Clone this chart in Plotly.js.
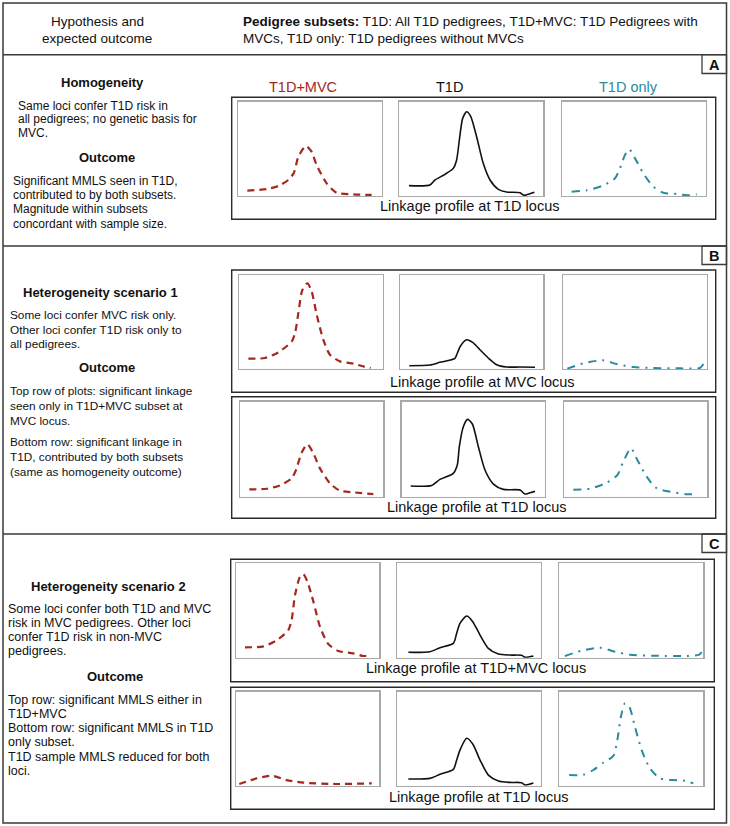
<!DOCTYPE html>
<html><head><meta charset="utf-8">
<script src="https://cdn.plot.ly/plotly-3.0.1.min.js"></script>
<style>html,body{margin:0;padding:0;background:#fff}#chart{width:730px;height:826px}</style>
</head><body><div id="chart"></div>
<script>
// ---------- DATA (relative position along locus, relative MMLS height) ----------
// Panel A: linkage profile at T1D locus
const A_mvc_x = [.063,.197,.278,.348,.387,.418,.471,.510,.545,.615,.684,.800,.928];
const A_mvc_y = [.057,.074,.106,.170,.247,.417,.530,.470,.329,.134,.035,.018,.011];
const A_t1d_x = [.067,.213,.248,.317,.375,.398,.417,.440,.468,.495,.537,.583,.630,.688,.745,.838,.866,.903,.938];
const A_t1d_y = [.110,.117,.170,.230,.293,.382,.594,.823,.894,.848,.629,.346,.170,.071,.042,.035,.007,.021,.039];
const A_only_x = [.065,.170,.286,.367,.402,.437,.467,.507,.565,.635,.705,.798,.867,.937];
const A_only_y = [.046,.060,.113,.187,.293,.435,.495,.399,.240,.099,.035,.021,.007,.018];
// Panel B top: MVC locus
const B1_mvc_x = [.065,.181,.274,.367,.390,.413,.441,.476,.506,.541,.587,.633,.703,.796,.865,.916];
const B1_mvc_y = [.110,.117,.177,.293,.382,.594,.841,.912,.823,.576,.311,.152,.081,.057,.028,.011];
const B1_t1d_x = [.063,.207,.277,.382,.399,.422,.464,.506,.557,.615,.674,.744,.837,.942];
const B1_t1d_y = [.035,.042,.071,.113,.170,.247,.311,.283,.205,.117,.046,.021,.021,.018];
const B1_only_x = [.028,.140,.274,.372,.488,.628,.814,.953,.977];
const B1_only_y = [.004,.060,.092,.053,.021,.011,.007,.011,.053];
// Panel B bottom: T1D locus
const B2_mvc_x = [.065,.186,.279,.360,.391,.430,.470,.512,.558,.628,.698,.791,.930];
const B2_mvc_y = [.077,.084,.119,.193,.281,.463,.551,.456,.298,.140,.063,.046,.028];
const B2_t1d_x = [.063,.209,.267,.360,.388,.402,.430,.460,.493,.535,.581,.640,.709,.826,.860,.895,.930];
const B2_t1d_y = [.112,.119,.182,.246,.333,.526,.737,.814,.765,.526,.281,.133,.077,.070,.028,.042,.056];
const B2_only_x = [.065,.181,.298,.372,.414,.467,.512,.577,.647,.740,.856,.930];
const B2_only_y = [.074,.084,.147,.228,.368,.509,.386,.211,.088,.053,.025,.028];
// Panel C top: T1D+MVC locus
const C1_mvc_x = [.063,.191,.284,.365,.388,.412,.447,.470,.498,.540,.586,.644,.714,.819,.888,.935];
const C1_mvc_y = [.110,.120,.184,.293,.399,.664,.859,.883,.806,.594,.329,.145,.071,.046,.018,.028];
const C1_t1d_x = [.077,.228,.298,.391,.414,.437,.484,.526,.577,.635,.705,.786,.867,.891,.949];
const C1_t1d_y = [.057,.064,.106,.152,.258,.364,.442,.382,.240,.099,.039,.028,.025,.004,.018];
const C1_only_x = [.039,.155,.282,.387,.491,.653,.884,.972,.991];
const C1_only_y = [.018,.074,.106,.064,.032,.021,.018,.032,.064];
// Panel C bottom: T1D locus
const C2_mvc_x = [.023,.144,.249,.353,.470,.702,.947];
const C2_mvc_y = [.018,.078,.106,.060,.032,.018,.025];
const C2_t1d_x = [.077,.228,.298,.391,.414,.437,.484,.526,.577,.635,.705,.786,.867,.891,.949];
const C2_t1d_y = [.071,.078,.121,.174,.273,.379,.504,.443,.273,.113,.050,.035,.032,.007,.028];
const C2_only_x = [.069,.167,.236,.306,.375,.403,.428,.456,.486,.525,.572,.630,.699,.792,.873,.931];
const C2_only_y = [.113,.117,.167,.245,.316,.486,.734,.876,.840,.628,.379,.184,.078,.060,.053,.025];

// ---------- TEXT ----------
const headerLeft = ['Hypothesis and','expected outcome'];
const headerRight = ['<b>Pedigree subsets:</b> T1D: All T1D pedigrees, T1D+MVC: T1D Pedigrees with','MVCs, T1D only: T1D pedigrees without MVCs'];
const subsetLabels = ['T1D+MVC','T1D','T1D only'];
const panelLetters = ['A','B','C'];
const aTitle = 'Homogeneity';
const aHyp = ['Same loci confer T1D risk in','all pedigrees; no genetic basis for','MVC.'];
const aOut = ['Significant MMLS seen in T1D,','contributed to by both subsets.','Magnitude within subsets','concordant with sample size.'];
const bTitle = 'Heterogeneity scenario 1';
const bHyp = ['Some loci confer MVC risk only.','Other loci confer T1D risk only to','all pedigrees.'];
const bOut = ['Top row of plots: significant linkage','seen only in T1D+MVC subset at','MVC locus.','Bottom row: significant linkage in','T1D, contributed by both subsets','(same as homogeneity outcome)'];
const cTitle = 'Heterogeneity scenario 2';
const cHyp = ['Some loci confer both T1D and MVC','risk in MVC pedigrees. Other loci','confer T1D risk in non-MVC','pedigrees.'];
const cOut = ['Top row: significant MMLS either in','T1D+MVC','Bottom row: significant MMLS in T1D','only subset.','T1D sample MMLS reduced for both','loci.'];
const outcomeWord = 'Outcome';
const profileLabels = ['Linkage profile at T1D locus','Linkage profile at MVC locus','Linkage profile at T1D locus','Linkage profile at T1D+MVC locus','Linkage profile at T1D locus'];

// ---------- LAYOUT ----------
const W=730,H=826;
const FONT='"Liberation Sans", Arial, Helvetica, sans-serif';
const RED='#a3281d', TEAL='#2c8a9f', BLACK='#111111';
const px=x=>x/W, py=y=>1-y/H;
const layout={width:W,height:H,margin:{l:0,r:0,t:0,b:0,pad:0},paper_bgcolor:'#fff',plot_bgcolor:'rgba(0,0,0,0)',
  showlegend:false,shapes:[],annotations:[],font:{family:FONT,color:'#111'},hovermode:false};
const traces=[];

const rows=[
 {y0:101.7,y1:196,  xs:[[238.3,382],[399.3,543.3],[562.3,705.7]], s:[[A_mvc_x,A_mvc_y],[A_t1d_x,A_t1d_y],[A_only_x,A_only_y]]},
 {y0:275,  y1:369,  xs:[[239,382.7],[400.3,543.3],[563.3,706.7]], s:[[B1_mvc_x,B1_mvc_y],[B1_t1d_x,B1_t1d_y],[B1_only_x,B1_only_y]]},
 {y0:401.7,y1:496.7,xs:[[240,383.3],[401.7,545],[564,707.3]],     s:[[B2_mvc_x,B2_mvc_y],[B2_t1d_x,B2_t1d_y],[B2_only_x,B2_only_y]]},
 {y0:563.3,y1:657.7,xs:[[236,379.3],[397.3,540.7],[559.3,703.3]], s:[[C1_mvc_x,C1_mvc_y],[C1_t1d_x,C1_t1d_y],[C1_only_x,C1_only_y]]},
 {y0:691.7,y1:785.7,xs:[[236,379.3],[397.3,540.7],[559.3,703.3]], s:[[C2_mvc_x,C2_mvc_y],[C2_t1d_x,C2_t1d_y],[C2_only_x,C2_only_y]]}
];
const styles=[{color:RED,width:2.2,dash:'7px,5px'},{color:BLACK,width:1.6,dash:'solid'},{color:TEAL,width:2,dash:'8px,6px,2px,6px'}];
let n=0;
rows.forEach(r=>{
  r.xs.forEach((xx,j)=>{
    n++; const sfx=n===1?'':String(n);
    const ax={showline:true,mirror:true,linecolor:'#a9a9a9',linewidth:1.4,showgrid:false,zeroline:false,showticklabels:false,ticks:'',fixedrange:true,range:[0,1]};
    layout['xaxis'+sfx]=Object.assign({},ax,{domain:[px(xx[0]),px(xx[1])],anchor:'y'+sfx});
    layout['yaxis'+sfx]=Object.assign({},ax,{domain:[py(r.y1),py(r.y0)],anchor:'x'+sfx});
    traces.push({x:r.s[j][0],y:r.s[j][1],xaxis:'x'+sfx,yaxis:'y'+sfx,type:'scatter',mode:'lines',
      line:Object.assign({shape:'spline',smoothing:0.7},styles[j]),hoverinfo:'skip'});
  });
});

function rect(x0,y0,x1,y1,color,w){layout.shapes.push({type:'rect',xref:'paper',yref:'paper',x0:px(x0),x1:px(x1),y0:py(y1),y1:py(y0),line:{color:color,width:w},fillcolor:'rgba(0,0,0,0)'});}
function hline(y,x0,x1,color,w){layout.shapes.push({type:'line',xref:'paper',yref:'paper',x0:px(x0),x1:px(x1),y0:py(y),y1:py(y),line:{color:color,width:w}});}
function txt(t,x,y,size,anchor,opts){layout.annotations.push(Object.assign({text:t,x:px(x),y:py(y),xref:'paper',yref:'paper',showarrow:false,
  xanchor:anchor,yanchor:'middle',font:{family:FONT,size:size,color:'#111'},borderpad:0},opts||{}));}

// frame & section lines
rect(3,3,726.5,823,'#3a3a3a',1.5);
hline(54.7,3,726.5,'#3a3a3a',1.5);
hline(246,3,726.5,'#3a3a3a',1.5);
hline(534,3,726.5,'#3a3a3a',1.5);
// panel letter boxes
const letterY=[[54.7,73.5],[246,264.5],[534,552.5]];
letterY.forEach((ly,i)=>{rect(702,ly[0],726.5,ly[1],'#3a3a3a',1.3); txt('<b>'+panelLetters[i]+'</b>',714.3,(ly[0]+ly[1])/2+0.5,14.5,'center');});
// group boxes
rect(231.7,97.3,715.7,219.3,'#2a2a2a',1.4);
rect(231.7,270,715.7,392.3,'#2a2a2a',1.4);
rect(231.7,396.7,715.7,518.3,'#2a2a2a',1.4);
rect(230.7,559.3,714.3,681.7,'#2a2a2a',1.4);
rect(230.7,687.3,714.3,809.3,'#2a2a2a',1.4);

// header
txt(headerLeft[0],97,21.7,13.5,'center'); txt(headerLeft[1],97,38.3,13.5,'center');
txt(headerRight[0],242,21.7,13.5,'left'); txt(headerRight[1],242,38.3,13.5,'left');
// subset labels
txt(subsetLabels[0],303,86.7,14.5,'center',{font:{family:FONT,size:14.5,color:RED}});
txt(subsetLabels[1],449,86.7,14.5,'center');
txt(subsetLabels[2],628,86.7,14.5,'center',{font:{family:FONT,size:14.5,color:TEAL}});
// linkage labels
const profPos=[[469.5,205.7],[482.3,382.3],[476,507],[476,668.3],[478.5,796.7]];
profPos.forEach((p,i)=>txt(profileLabels[i],p[0],p[1],14.5,'center'));

// left column
txt('<b>'+aTitle+'</b>',102,82.3,13,'center');
aHyp.forEach((t,i)=>txt(t,17.3,106+i*13.4,12,'left'));
txt('<b>'+outcomeWord+'</b>',107,157.3,13,'center');
aOut.forEach((t,i)=>txt(t,11.7,180.5+i*14.4,12,'left'));

txt('<b>'+bTitle+'</b>',100,292.7,13,'center');
bHyp.forEach((t,i)=>txt(t,9.3,315+i*14.5,11.8,'left'));
txt('<b>'+outcomeWord+'</b>',106.7,367.7,13,'center');
bOut.slice(0,3).forEach((t,i)=>txt(t,9.3,390.7+i*15,11.8,'left'));
bOut.slice(3).forEach((t,i)=>txt(t,9.3,441.7+i*15,11.8,'left'));

txt('<b>'+cTitle+'</b>',108.5,586.7,13,'center');
cHyp.forEach((t,i)=>txt(t,7.3,609+i*13.9,12.5,'left'));
txt('<b>'+outcomeWord+'</b>',114.7,676,13,'center');
cOut.forEach((t,i)=>txt(t,7.3,700+i*14.15,12.5,'left'));

Plotly.newPlot('chart',traces,layout,{staticPlot:true,displayModeBar:false});
</script></body></html>
